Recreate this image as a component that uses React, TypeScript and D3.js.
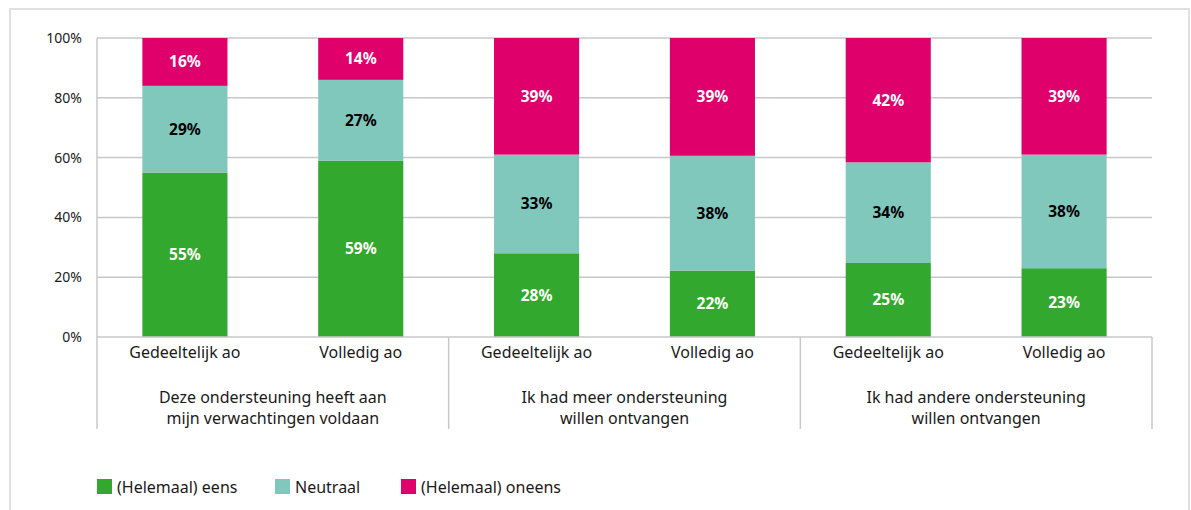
import React from "react";
import * as d3 from "d3";

const categories = ["Gedeeltelijk ao", "Volledig ao", "Gedeeltelijk ao", "Volledig ao", "Gedeeltelijk ao", "Volledig ao"];
const groups = [
  ["Deze ondersteuning heeft aan", "mijn verwachtingen voldaan"],
  ["Ik had meer ondersteuning", "willen ontvangen"],
  ["Ik had andere ondersteuning", "willen ontvangen"],
];
const seriesNames = ["(Helemaal) eens", "Neutraal", "(Helemaal) oneens"];
const eens = [55, 59, 28, 22, 25, 23];
const neutraal = [29, 27, 33, 38, 34, 38];
const oneens = [16, 14, 39, 39, 42, 39];
const yTicks = [0, 20, 40, 60, 80, 100];
const colors = ["#33a82e", "#80c8bb", "#e0006b"];
const labelColors = ["#ffffff", "#000000", "#ffffff"];

const W = 1191;
const H = 510;
const left = 97;
const right = 1152;
const top = 38;
const bottom = 337;
const font = "'Noto Sans', sans-serif";

export default function App() {
  const x = d3.scaleBand<number>().domain(d3.range(categories.length)).range([left, right]).paddingInner(0.516).paddingOuter(0.258);
  const y = d3.scaleLinear().domain([0, 1]).range([bottom, top]);
  const yPct = d3.scaleLinear().domain([0, 100]).range([bottom, top]);
  const series = [eens, neutraal, oneens];
  const rows = categories.map((_, i) => ({ s0: eens[i], s1: neutraal[i], s2: oneens[i] }));
  const stacked = d3.stack<any>().keys(["s0", "s1", "s2"]).offset(d3.stackOffsetExpand)(rows);
  const slot = (right - left) / categories.length;
  const groupX = d3.scaleLinear().domain([0, 3]).range([left, right]);

  return (
    <div style={{ position: "absolute", left: 0, top: 0 }}>
      <svg width={W} height={H} style={{ display: "block", fontFamily: font }}>
        <rect x={0} y={0} width={W} height={H} fill="#fff" />
        <rect x={10} y={9} width={1179} height={H} fill="none" stroke="#e0e0e0" strokeWidth={2} />
        {yTicks.map((t) => (
          <g key={t}>
            {t > 0 && <line x1={left} x2={right} y1={yPct(t)} y2={yPct(t)} stroke="#c8c8c8" strokeWidth={1.5} />}
            <text x={82} y={yPct(t)} dy="0.35em" textAnchor="end" fontSize={14} fill="#1a1a1a">{t}%</text>
          </g>
        ))}
        <line x1={left} x2={left} y1={top} y2={bottom} stroke="#c8c8c8" strokeWidth={1.5} />
        {stacked.map((layer, si) => (
          <g key={si}>
            {layer.map((d, i) => {
              const bx = x(i)!;
              const y0 = y(d[0]);
              const y1 = y(d[1]);
              return (
                <g key={i}>
                  <rect x={bx} y={y1} width={x.bandwidth()} height={y0 - y1} fill={colors[si]} />
                  <text x={bx + x.bandwidth() / 2} y={(y0 + y1) / 2} dy="0.35em" textAnchor="middle" fontSize={15.5} fontWeight="bold" fill={labelColors[si]}>
                    {series[si][i]}%
                  </text>
                </g>
              );
            })}
          </g>
        ))}
        <line x1={left} x2={right} y1={bottom} y2={bottom} stroke="#c8c8c8" strokeWidth={1.5} />
        {d3.range(4).map((g) => (
          <line key={g} x1={groupX(g)} x2={groupX(g)} y1={bottom} y2={429} stroke="#c8c8c8" strokeWidth={1.5} />
        ))}
        {categories.map((c, i) => (
          <text key={i} x={left + slot * (i + 0.5)} y={352} dy="0.35em" textAnchor="middle" fontSize={16} fill="#1a1a1a">{c}</text>
        ))}
        {groups.map((lines, g) => (
          <text key={g} x={(groupX(g) + groupX(g + 1)) / 2} textAnchor="middle" fontSize={16} fill="#1a1a1a">
            {lines.map((l, k) => (
              <tspan key={k} x={(groupX(g) + groupX(g + 1)) / 2} y={397 + k * 21} dy="0.35em">{l}</tspan>
            ))}
          </text>
        ))}
        {seriesNames.map((n, k) => {
          const lx = [97, 275, 401][k];
          return (
            <g key={k}>
              <rect x={lx} y={479} width={15} height={15} fill={colors[k]} />
              <text x={lx + 20} y={487} dy="0.35em" fontSize={16} fill="#1a1a1a">{n}</text>
            </g>
          );
        })}
      </svg>
    </div>
  );
}
